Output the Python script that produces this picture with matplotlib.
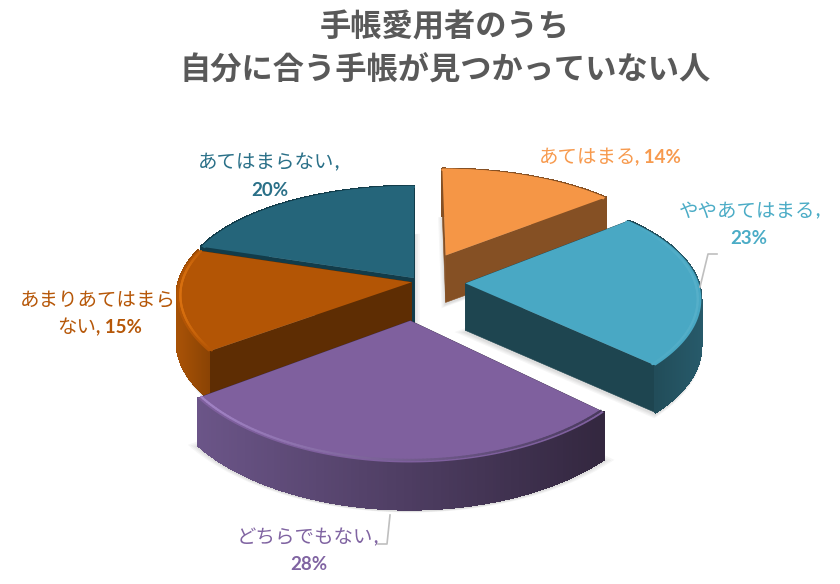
import matplotlib
matplotlib.use("Agg")
import matplotlib.pyplot as plt
import numpy as np
from matplotlib.collections import LineCollection, PolyCollection
from matplotlib.colors import to_rgb
from matplotlib.patches import Polygon

plt.rcParams["font.family"] = ["Noto Sans CJK JP", "DejaVu Sans"]

# data, clockwise from 12 o'clock
NAMES = ["あてはまる", "ややあてはまる", "どちらでもない", "あまりあてはまらない", "あてはまらない"]
VALUES = [14, 23, 28, 15, 20]
EXPLODE_U = [0.14, 0.22, -0.015, -0.01, 0.0]
EXPLODE_V = [0.22, -0.05, -0.38, -0.04, 0.0]
TITLE = "手帳愛用者のうち\n自分に合う手帳が見つかっていない人"

TOP = ["#F59646", "#49A8C4", "#7F609E", "#B35505", "#25657A"]
CUT = ["#855024", "#1E4550", "#3B2C4C", "#5E2D03", "#123C4A"]
RIM_L = ["#855024", "#1E4550", "#6B5588", "#A85206", "#123C4A"]
RIM_R = ["#855024", "#275A6A", "#33273F", "#8A4304", "#123C4A"]
BEVEL_L = ["#F59646", "#49A8C4", "#A283C6", "#D9700F", "#25657A"]
BEVEL_R = ["#F59646", "#55AFC9", "#4A3A5E", "#B35505", "#25657A"]
LABEL = ["#F79A4E", "#4BACC6", "#8064A2", "#B65708", "#2A7088"]

# projection of the pie plane onto the picture, in pixels
CX, CY = 414, 278
RX, RY = 232, 106
PERSP_X, PERSP_Y = 0.12, 0.15
DEPTH = 47


def project(u, v):
    return CX + RX * u / (1 + PERSP_X * v), CY - RY * v / (1 + PERSP_Y * v)


def mix(a, b, t):
    return tuple((1 - t) * x + t * y for x, y in zip(to_rgb(a), to_rgb(b)))


def draw_slice(ax, start, end, i):
    ex, ey = EXPLODE_U[i], EXPLODE_V[i]
    ang = np.linspace(start, end, 120)
    arc_x, arc_y = project(np.sin(ang) + ex, np.cos(ang) + ey)
    ax_x, ax_y = project(ex, ey)
    top = np.column_stack([np.r_[ax_x, arc_x], np.r_[ax_y, arc_y]])

    # soft shadow under the slab
    base = top + [0, DEPTH]
    centre = base.mean(axis=0)
    for grow in (1.05, 1.035, 1.02, 1.01):
        ax.add_patch(Polygon(centre + (base - centre) * grow + [0, 2], fc="#808080",
                             ec="none", alpha=0.07))

    # straight cut faces
    for px, py in ((arc_x[0], arc_y[0]), (arc_x[-1], arc_y[-1])):
        quad = [(ax_x, ax_y), (px, py), (px, py + DEPTH), (ax_x, ax_y + DEPTH)]
        ax.add_patch(Polygon(quad, fc=CUT[i], ec=CUT[i], lw=0.4))

    # outer rim, shaded from left to right
    t = (arc_x[:-1] - arc_x.min()) / max(np.ptp(arc_x), 1)
    quads = [
        [(arc_x[k], arc_y[k]), (arc_x[k + 1], arc_y[k + 1]),
         (arc_x[k + 1], arc_y[k + 1] + DEPTH), (arc_x[k], arc_y[k] + DEPTH)]
        for k in range(len(ang) - 1)
    ]
    colors = [mix(RIM_L[i], RIM_R[i], x) for x in t]
    ax.add_collection(PolyCollection(quads, facecolors=colors, edgecolors=colors,
                                     linewidths=1.0, antialiaseds=False))

    ax.add_patch(Polygon(top, fc=TOP[i], ec="none"))

    # bevel along the front of the top face
    in_x, in_y = project(0.985 * np.sin(ang) + ex, 0.985 * np.cos(ang) + ey)
    segs = [[(in_x[k], in_y[k]), (in_x[k + 1], in_y[k + 1])] for k in range(len(ang) - 1)]
    colors = [mix(BEVEL_L[i], BEVEL_R[i], x) for x in t]
    ax.add_collection(LineCollection(segs, colors=colors, linewidths=1.6, capstyle="round"))


def label(ax, x, y, text, bold=False, color="k", ha="center"):
    if bold:
        ax.text(x, y, text, color=color, ha=ha, va="center", fontsize=13.5,
                family=["Lato", "DejaVu Sans"], fontweight="bold")
    else:
        ax.text(x, y, text, color=color, ha=ha, va="center", fontsize=14)


def main() -> None:
    fig = plt.figure(figsize=(8.4, 5.84), dpi=100)
    ax = fig.add_axes([0, 0, 1, 1])
    ax.set_xlim(0, 840)
    ax.set_ylim(584, 0)
    ax.axis("off")

    edges = np.r_[0, np.cumsum(VALUES)] / sum(VALUES) * 2 * np.pi
    for i in (4, 3, 0, 1, 2):
        draw_slice(ax, edges[i], edges[i + 1], i)

    ax.text(445, 49, TITLE, ha="center", va="center", fontsize=22.5, fontweight="bold",
            color="#595959", linespacing=1.42)

    # data labels, one per slice
    label(ax, 636, 157, NAMES[0], color=LABEL[0], ha="right")
    label(ax, 635, 157, f", {VALUES[0]}%", True, LABEL[0], "left")
    label(ax, 815, 211, NAMES[1], color=LABEL[1], ha="right")
    label(ax, 815, 211, ",", True, LABEL[1], "left")
    label(ax, 749, 238, f"{VALUES[1]}%", True, LABEL[1])
    label(ax, 373, 538, NAMES[2], color=LABEL[2], ha="right")
    label(ax, 373, 538, ",", True, LABEL[2], "left")
    label(ax, 309, 565, f"{VALUES[2]}%", True, LABEL[2])
    label(ax, 176, 300, NAMES[3][:8], color=LABEL[3], ha="right")
    label(ax, 96, 327, NAMES[3][8:], color=LABEL[3], ha="right")
    label(ax, 96, 327, f", {VALUES[3]}%", True, LABEL[3], "left")
    label(ax, 334, 163, NAMES[4], color=LABEL[4], ha="right")
    label(ax, 334, 163, ",", True, LABEL[4], "left")
    label(ax, 270, 190, f"{VALUES[4]}%", True, LABEL[4])

    # leader lines
    ax.plot([700, 708, 717], [287, 254, 254], color="#BFBFBF", lw=1.2)
    ax.plot([390, 387, 378], [515, 544, 544], color="#BFBFBF", lw=1.2)

    fig.savefig("out.png", dpi=100, facecolor="white")


if __name__ == "__main__":
    main()
